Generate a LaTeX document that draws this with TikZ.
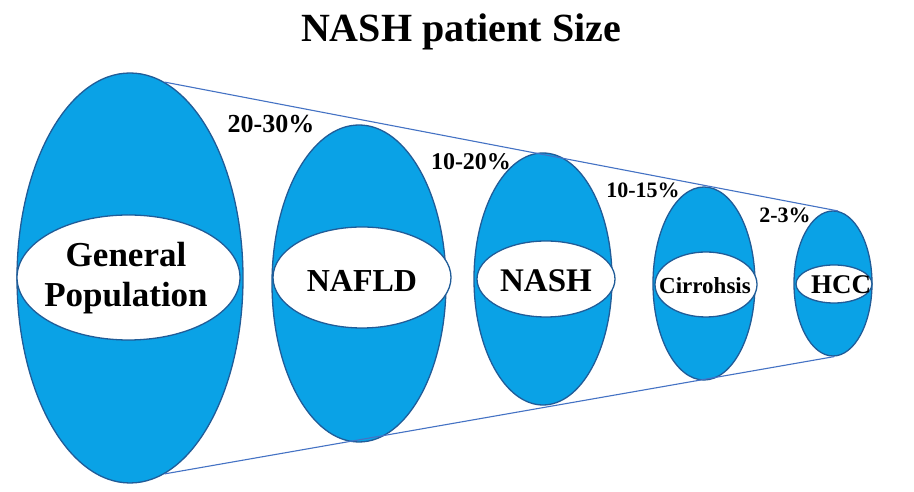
\documentclass[tikz,border=0pt]{standalone}
\usepackage{fontspec}
\setmainfont{Liberation Serif}
\usetikzlibrary{shapes.geometric}
\definecolor{cfill}{RGB}{10,162,230}
\definecolor{cedge}{RGB}{32,92,152}
\definecolor{cline}{RGB}{68,114,196}
\tikzset{
  outer/.style={ellipse, draw=cedge, line width=1.3pt, fill=cfill, inner sep=0pt},
  inner/.style={ellipse, draw=cedge, line width=1.3pt, fill=white, inner sep=0pt},
  lbl/.style={font=\bfseries, text=black, inner sep=0pt, anchor=base},
  cone/.style={draw=cline, line width=1.1pt}
}
\begin{document}
\begin{tikzpicture}[x=1pt,y=1pt]
\useasboundingbox[fill=white] (0,0) rectangle (914,492);
% outer ellipses
\node[outer, minimum width=226pt, minimum height=410pt] (gp) at (130,214) {};
\node[outer, minimum width=174pt, minimum height=317pt] (nafld) at (359,208.5) {};
\node[outer, minimum width=138pt, minimum height=252pt] (nash) at (543,213) {};
\node[outer, minimum width=102pt, minimum height=193pt] (cirr) at (704,208.5) {};
\node[outer, minimum width=78pt, minimum height=145pt] (hcc) at (833,208.5) {};
% cone lines
\draw[cone] (gp.80) -- (hcc.86);
\draw[cone] (gp.-80) -- (hcc.-89);
% inner ellipses
\node[inner, minimum width=223pt, minimum height=125pt] (gpi) at (128.5,214.5) {};
\node[inner, minimum width=178pt, minimum height=101pt] (nafldi) at (362,214.5) {};
\node[inner, minimum width=138pt, minimum height=76pt] (nashi) at (546,213) {};
\node[inner, minimum width=102pt, minimum height=65pt] (cirri) at (706,207.5) {};
\node[inner, minimum width=76pt, minimum height=38pt] (hcci) at (834,208) {};
% texts
\node[lbl, anchor=base] (title) at (461,450) {\fontsize{40}{46}\selectfont NASH patient Size};
\node[lbl, anchor=base] (tgp1) at (126,225) {\fontsize{35}{40}\selectfont General};
\node[lbl, anchor=base] (tgp2) at (126,185) {\fontsize{35}{40}\selectfont Population};
\node[lbl] (tnafld) at (362,200) {\fontsize{32}{36}\selectfont NAFLD};
\node[lbl] (tnash) at (546,200) {\fontsize{33}{36}\selectfont NASH};
\node[lbl] (tcirr) at (705,198) {\fontsize{23}{26}\selectfont Cirrohsis};
\node[lbl] (thcc) at (841,198) {\fontsize{27}{30}\selectfont HCC};
\node[lbl] (p1) at (271,359) {\fontsize{26}{30}\selectfont 20-30\%};
\node[lbl] (p2) at (471,322) {\fontsize{24}{28}\selectfont 10-20\%};
\node[lbl] (p3) at (643,294) {\fontsize{22}{26}\selectfont 10-15\%};
\node[lbl] (p4) at (785,269) {\fontsize{22}{26}\selectfont 2-3\%};
\end{tikzpicture}
\end{document}
